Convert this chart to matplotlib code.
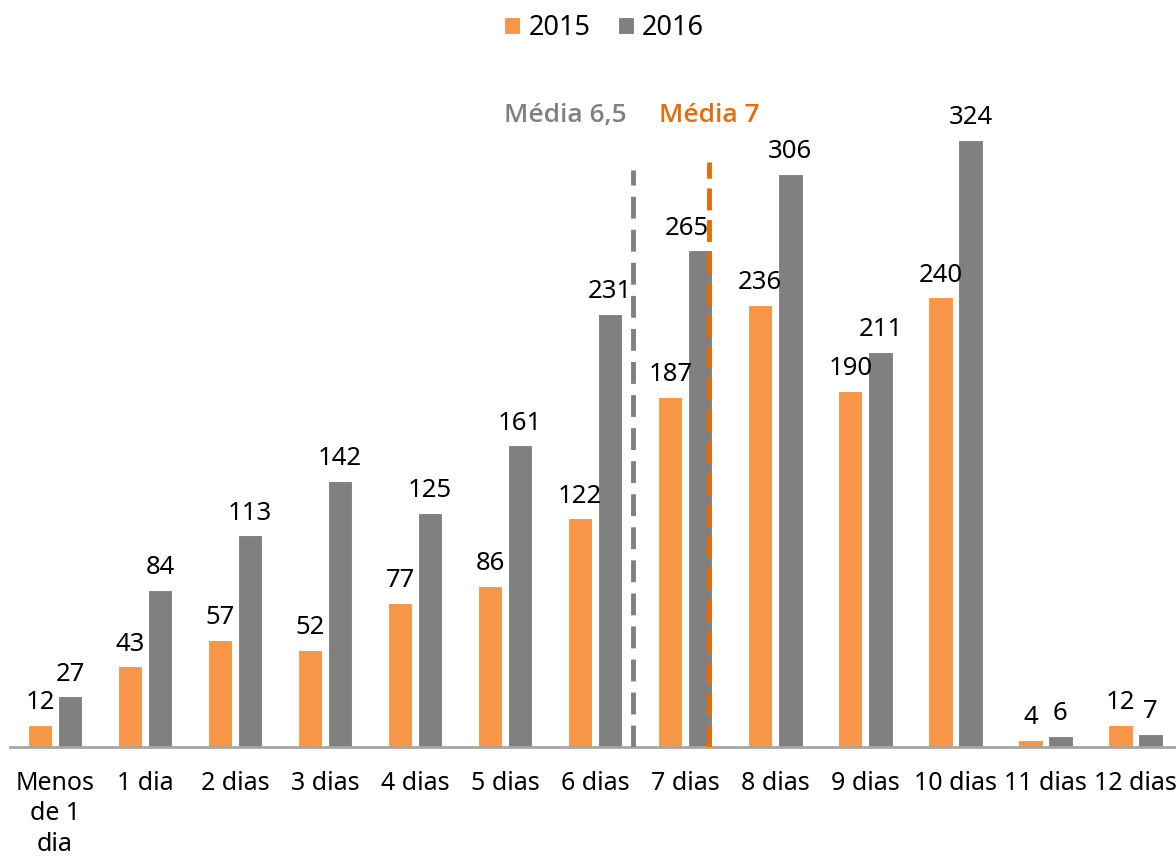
import matplotlib.pyplot as plt
import numpy as np

plt.rcParams['font.family'] = ['Noto Sans', 'DejaVu Sans']

# Data
categories = ['Menos\nde 1\ndia', '1 dia', '2 dias', '3 dias', '4 dias', '5 dias',
              '6 dias', '7 dias', '8 dias', '9 dias', '10 dias', '11 dias', '12 dias']
values_2015 = [12, 43, 57, 52, 77, 86, 122, 187, 236, 190, 240, 4, 12]
values_2016 = [27, 84, 113, 142, 125, 161, 231, 265, 306, 211, 324, 6, 7]

mean_labels = ['Média 6,5', 'Média 7']
mean_pos = [6.42, 7.26]      # where the dashed lines sit on the category axis
mean_tops = [308, 312]

orange = '#F79646'
grey = '#808080'
dark_orange = '#E46C0A'

fig = plt.figure(figsize=(11.76, 8.58), dpi=100)
ax = fig.add_axes([10 / 1176, 111 / 858, 1 - 10 / 1176, 712 / 858])

x = np.arange(len(categories))
w = 0.27
off = 0.167
b1 = ax.bar(x - off, values_2015, w, color=orange, edgecolor='white', linewidth=0.8, label='2015')
b2 = ax.bar(x + off, values_2016, w, color=grey, edgecolor='white', linewidth=0.8, label='2016')

for bars, vals, series in [(b1, values_2015, 0), (b2, values_2016, 1)]:
    for i, (rect, v) in enumerate(zip(bars, vals)):
        dx = -10 if (series == 1 and i == 7) else 0
        ax.annotate(str(v), (rect.get_x() + rect.get_width() / 2, v),
                    xytext=(dx, 7), textcoords='offset points',
                    ha='center', va='bottom', fontsize=18.5, color='black')

# mean lines
ax.vlines(mean_pos[0], 0, mean_tops[0], colors=grey, linewidth=3.5,
          linestyles=(0, (4.5, 2.3)), zorder=3)
ax.vlines(mean_pos[1], 0, mean_tops[1], colors=dark_orange, linewidth=3.5,
          linestyles=(0, (4.5, 2.0)), zorder=3)
ax.text(mean_pos[0] - 0.07, 337, mean_labels[0], color=grey, fontsize=19,
        fontweight='semibold', family=['Open Sans', 'DejaVu Sans'], ha='right', va='center')
ax.text(mean_pos[1] - 0.55, 337, mean_labels[1], color=dark_orange, fontsize=19,
        fontweight='semibold', family=['Open Sans', 'DejaVu Sans'], ha='left', va='center')

ax.set_xlim(-0.5, 12.45)
ax.set_ylim(0, 380)
ax.set_xticks(x)
ax.set_xticklabels(categories, fontsize=18, linespacing=1.3, va='top')
ax.tick_params(axis='x', length=0, pad=17)
ax.set_yticks([])
for s in ['top', 'right', 'left']:
    ax.spines[s].set_visible(False)
ax.spines['bottom'].set_color('#a6a6a6')
ax.spines['bottom'].set_linewidth(2)

fig.legend(handles=[b1, b2], labels=['2015', '2016'], loc='center',
           bbox_to_anchor=(604 / 1176, 1 - 28 / 858), ncol=2, frameon=False,
           fontsize=19.5, handlelength=0.6, handleheight=0.6,
           handletextpad=0.3, columnspacing=1.0)

fig.savefig('out.png', dpi=100)
